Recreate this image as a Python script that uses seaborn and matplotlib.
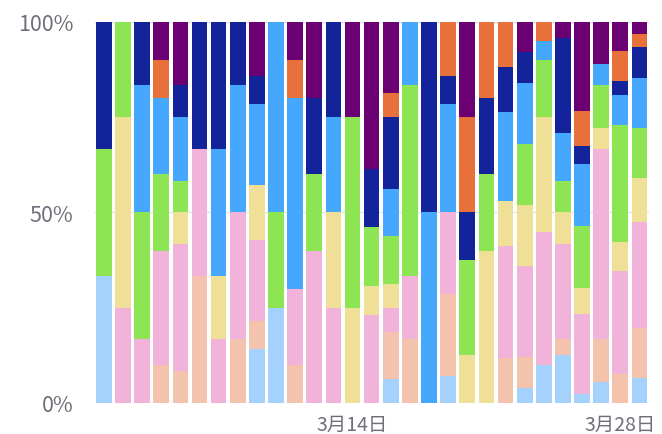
import matplotlib
matplotlib.use("Agg")
import matplotlib.pyplot as plt
import numpy as np
import pandas as pd
import seaborn as sns

# Daily dates on the category axis
days = [
    "3月1日", "3月2日", "3月3日", "3月4日", "3月5日", "3月6日", "3月7日",
    "3月8日", "3月9日", "3月10日", "3月11日", "3月12日", "3月13日", "3月14日",
    "3月15日", "3月16日", "3月17日", "3月18日", "3月19日", "3月20日", "3月21日",
    "3月22日", "3月23日", "3月24日", "3月25日", "3月26日", "3月27日", "3月28日",
    "3月29日",
]
shown_labels = ["3月14日", "3月28日"]

# Daily counts per type, stacked bottom to top in this order
type_1 = [1, 0, 0, 0, 0, 0, 0, 0, 2, 1, 0, 0, 0, 0, 0, 1, 0, 0, 1, 0, 0, 0, 1, 2, 3, 1, 1, 0, 4]
type_2 = [0, 0, 0, 1, 1, 1, 0, 1, 1, 0, 1, 0, 0, 0, 0, 2, 1, 0, 3, 0, 0, 2, 2, 0, 1, 0, 2, 2, 8]
type_3 = [0, 1, 1, 3, 4, 1, 1, 2, 3, 0, 2, 2, 1, 0, 3, 1, 1, 0, 3, 0, 0, 5, 6, 7, 6, 9, 9, 7, 17]
type_4 = [0, 2, 0, 0, 1, 0, 1, 0, 2, 0, 0, 0, 1, 1, 1, 1, 0, 0, 0, 1, 2, 2, 4, 6, 2, 3, 1, 2, 7]
type_5 = [1, 1, 2, 2, 1, 0, 0, 0, 0, 1, 0, 1, 0, 2, 2, 2, 3, 0, 0, 2, 1, 0, 4, 3, 2, 7, 2, 8, 8]
type_6 = [0, 0, 2, 2, 2, 0, 2, 2, 3, 2, 5, 0, 1, 0, 0, 2, 1, 1, 4, 0, 0, 4, 4, 1, 3, 7, 1, 2, 8]
type_7 = [1, 0, 1, 0, 1, 1, 2, 1, 1, 0, 0, 1, 1, 0, 2, 3, 0, 1, 1, 1, 1, 2, 2, 0, 6, 2, 0, 1, 5]
type_8 = [0, 0, 0, 1, 0, 0, 0, 0, 0, 0, 1, 0, 0, 0, 0, 1, 0, 0, 2, 2, 1, 2, 0, 1, 0, 4, 0, 2, 2]
type_9 = [0, 0, 0, 1, 2, 0, 0, 0, 2, 0, 1, 1, 0, 1, 5, 3, 0, 0, 0, 2, 0, 0, 2, 0, 1, 10, 2, 2, 2]

series = {
    "类型1": type_1, "类型2": type_2, "类型3": type_3,
    "类型4": type_4, "类型5": type_5, "类型6": type_6,
    "类型7": type_7, "类型8": type_8, "类型9": type_9,
}
palette = {
    "类型1": "#a5d1fd", "类型2": "#f3c3ae", "类型3": "#f1b3d9",
    "类型4": "#efdf97", "类型5": "#8ee553", "类型6": "#45a8fd",
    "类型7": "#13239a", "类型8": "#e8703a", "类型9": "#6b0072",
}

counts = pd.DataFrame(series, index=days)
share = counts.div(counts.sum(axis=1), axis=0) * 100
cumulative = share.cumsum(axis=1)

sns.set_theme(style="white")
plt.rcParams["font.family"] = ["Noto Sans CJK SC", "DejaVu Sans"]
text_color = "#6e7079"

fig = plt.figure(figsize=(6.62, 4.35), dpi=100)
ax = fig.add_axes([0.1424, 0.0713, 0.838, 0.8759])

# Stacked 100% bars: draw the cumulative totals from the top layer down
for name in reversed(list(series)):
    layer = pd.DataFrame({"day": days, "pct": cumulative[name].values})
    sns.barplot(
        data=layer, x="day", y="pct", order=days, color=palette[name],
        saturation=1, width=0.82, errorbar=None, linewidth=0,
        edgecolor="none", ax=ax, zorder=3,
    )

ax.set_xlim(-0.5, len(days) - 0.5)
ax.set_ylim(0, 100)
ax.set_yticks([0, 50, 100])
ax.set_yticklabels(["0%", "50%", "100%"])
ax.set_xticks(range(len(days)))
ax.set_xticklabels([d if d in shown_labels else "" for d in days])
ax.set_xlabel("")
ax.set_ylabel("")

ax.yaxis.grid(True, color="#e0e6f1", linewidth=1)
ax.xaxis.grid(False)
ax.set_axisbelow(True)
for spine in ax.spines.values():
    spine.set_visible(False)

ax.tick_params(axis="y", length=0, pad=15, labelsize=15.5, labelcolor=text_color)
ax.tick_params(axis="x", length=3, width=1, color="#d6d6d6", pad=5,
               labelsize=14, labelcolor=text_color)

fig.savefig("out.png", dpi=100)
